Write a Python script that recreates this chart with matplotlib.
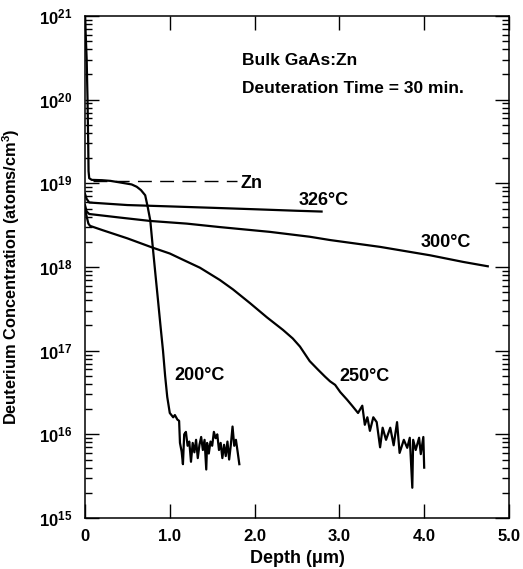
import numpy as np
import matplotlib
matplotlib.use('Agg')
import matplotlib.pyplot as plt
from matplotlib.ticker import LogLocator, NullFormatter

plt.rcParams['font.family'] = ['Liberation Sans', 'DejaVu Sans']
plt.rcParams['font.weight'] = 'bold'
plt.rcParams['axes.labelweight'] = 'bold'
plt.rcParams['mathtext.fontset'] = 'custom'
plt.rcParams['mathtext.rm'] = 'Liberation Sans:bold'
plt.rcParams['mathtext.bf'] = 'Liberation Sans:bold'
plt.rcParams['mathtext.it'] = 'Liberation Sans:bold:italic'
plt.rcParams['mathtext.default'] = 'bf'

# depth in um, concentration in atoms/cm3
d200 = [0.0, 0.02, 0.03, 0.038, 0.042, 0.05, 0.08, 0.2, 0.3, 0.45, 0.55, 0.61,
        0.66, 0.71, 0.74, 0.77, 0.80, 0.83, 0.86, 0.89, 0.92, 0.945, 0.97,
        1.00, 1.04, 1.06, 1.09, 1.11, 1.12, 1.14, 1.155, 1.17, 1.19, 1.21, 1.23,
        1.25, 1.27, 1.29, 1.31, 1.33, 1.35, 1.37, 1.39, 1.41, 1.43, 1.44, 1.46,
        1.48, 1.50, 1.52, 1.54, 1.56, 1.58, 1.60, 1.62, 1.64, 1.66, 1.68, 1.70,
        1.72, 1.74, 1.76, 1.78, 1.80, 1.82]
c200 = [1e21, 3e20, 1e20, 3e19, 1.4e19, 1.15e19, 1.1e19, 1.09e19, 1.07e19, 1.01e19,
        9.7e18, 9.1e18, 8.3e18, 7.2e18, 5.2e18, 3.6e18, 1.7e18, 8.3e17, 4.1e17,
        2.0e17, 1.0e17, 5e16, 2.8e16, 1.8e16, 1.6e16, 1.7e16,
        1.5e16, 1.45e16, 7.9e15, 6.2e15, 4.4e15, 1.0e16, 1.07e16, 7.3e15, 8.2e15,
        4.7e15, 7.9e15, 6.1e15, 8.6e15, 5.2e15, 7.5e15, 9.3e15, 6.5e15, 8.6e15,
        3.8e15, 7.9e15, 5.9e15, 8.2e15, 7.3e15, 1.07e16, 9e15, 1.0e16, 6.5e15,
        7.9e15, 5.2e15, 7.5e15, 5.5e15, 8.2e15, 5e15, 7.5e15, 1.24e16, 7.3e15,
        8.6e15, 6.2e15, 4.4e15]

d250 = [0.0, 0.02, 0.04, 0.06, 0.21, 0.5, 0.80, 1.00, 1.156, 1.356, 1.59, 1.745,
        1.946, 2.146, 2.335, 2.45, 2.535, 2.65, 2.75, 2.83, 2.89, 2.95, 3.01,
        3.09, 3.15, 3.22, 3.27, 3.30, 3.33, 3.36, 3.40, 3.44, 3.48, 3.51, 3.55,
        3.60, 3.64, 3.68, 3.71, 3.76, 3.80, 3.83, 3.86, 3.87, 3.90, 3.94, 3.96,
        3.99, 4.00]
c250 = [5e18, 4e18, 3.3e18, 3.1e18, 2.75e18, 2.2e18, 1.70e18, 1.45e18, 1.22e18,
        9.8e17, 7.0e17, 5.4e17, 3.7e17, 2.5e17, 1.77e17, 1.4e17, 1.12e17, 7.5e16,
        5.9e16, 4.9e16, 4.3e16, 3.9e16, 3.2e16, 2.6e16, 2.2e16, 1.8e16, 2.2e16,
        1.3e16, 1.6e16, 1.1e16, 1.6e16, 1.4e16, 7e15, 1.2e16, 8.6e15, 1.2e16,
        7.4e15, 1.4e16, 6e15, 8.6e15, 6.9e15, 9.1e15, 2.3e15, 8.6e15, 6.5e15,
        9.1e15, 5.8e15, 9.3e15, 4e15]

d300 = [0.0, 0.02, 0.05, 0.41, 0.77, 1.20, 1.59, 2.18, 2.65, 2.89, 3.48, 4.07,
        4.46, 4.75]
c300 = [5.5e18, 4.6e18, 4.3e18, 3.9e18, 3.55e18, 3.3e18, 3.0e18, 2.63e18, 2.3e18,
        2.1e18, 1.74e18, 1.38e18, 1.15e18, 1.02e18]

d326 = [0.0, 0.02, 0.05, 0.5, 1.0, 1.5, 2.0, 2.5, 2.79]
c326 = [7.5e18, 6.5e18, 5.9e18, 5.5e18, 5.3e18, 5.1e18, 4.9e18, 4.7e18, 4.6e18]

zn_depth = [0.1, 1.79]
zn_conc = [1.07e19, 1.07e19]

ytick_vals = [1e15, 1e16, 1e17, 1e18, 1e19, 1e20, 1e21]
ytick_labels = [r'$10^{15}$', r'$10^{16}$', r'$10^{17}$', r'$10^{18}$',
                r'$10^{19}$', r'$10^{20}$', r'$10^{21}$']
xtick_vals = [0, 1, 2, 3, 4, 5]
xtick_labels = ['0', '1.0', '2.0', '3.0', '4.0', '5.0']

fig = plt.figure(figsize=(5.23, 5.69), dpi=100)
ax = fig.add_axes([0.1625, 0.0896, 0.8107, 0.8823])
ax.set_yscale('log')

lw = 1.6
ax.plot(zn_depth, zn_conc, color='black', lw=1.0, dashes=(10, 6))
ax.plot(d200, c200, color='black', lw=lw)
ax.plot(d250, c250, color='black', lw=lw)
ax.plot(d300, c300, color='black', lw=lw)
ax.plot(d326, c326, color='black', lw=lw)

ax.set_xlim(0, 5)
ax.set_ylim(1e15, 1e21)
ax.set_xticks(xtick_vals)
ax.set_xticklabels(xtick_labels)
ax.set_yticks(ytick_vals)
ax.set_yticklabels(ytick_labels)
ax.yaxis.set_minor_locator(LogLocator(base=10, subs=np.arange(2, 10), numticks=20))
ax.yaxis.set_minor_formatter(NullFormatter())

ax.tick_params(which='both', direction='in', top=True, right=True, width=1.0)
ax.tick_params(which='major', length=10, labelsize=12)
ax.tick_params(axis='y', which='major', pad=9)
ax.tick_params(axis='x', which='major', pad=8)
ax.tick_params(which='minor', length=5)
for s in ax.spines.values():
    s.set_linewidth(1.1)

lab = 13
ax.text(1.83, 1.0e19, 'Zn', fontsize=lab, va='center', ha='left')
ax.text(2.52, 6.3e18, '326°C', fontsize=lab, va='center', ha='left')
ax.text(3.96, 1.95e18, '300°C', fontsize=lab, va='center', ha='left')
ax.text(1.06, 5.1e16, '200°C', fontsize=lab, va='center', ha='left')
ax.text(3.00, 4.9e16, '250°C', fontsize=lab, va='center', ha='left')

ax.text(0.370, 0.902, 'Bulk GaAs:Zn', transform=ax.transAxes, fontsize=12.5,
        va='baseline', ha='left')
ax.text(0.370, 0.847, 'Deuteration Time = 30 min.', transform=ax.transAxes,
        fontsize=12.5, va='baseline', ha='left')

ax.set_xlabel('Depth (μm)', fontsize=13)
ax.set_ylabel(r'Deuterium Concentration (atoms/cm$^3$)', fontsize=11.8)
ax.xaxis.set_label_coords(0.5, -0.063)
ax.yaxis.set_label_coords(-0.148, 0.48)

fig.savefig('out.png', dpi=100)
